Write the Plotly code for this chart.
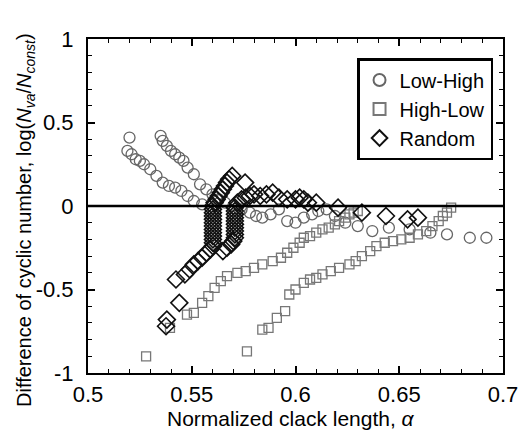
import plotly.graph_objects as go

# Low-High (open circles)
lh_x = [0.520, 0.519, 0.521, 0.523, 0.525, 0.527, 0.530, 0.533, 0.536, 0.539, 0.542, 0.545, 0.548, 0.551, 0.555,
        0.535, 0.536, 0.538, 0.540, 0.542, 0.544, 0.546, 0.548, 0.551, 0.554, 0.557, 0.560, 0.563, 0.566,
        0.570, 0.574, 0.578, 0.581, 0.584, 0.588, 0.592, 0.596, 0.600, 0.604, 0.608, 0.611, 0.615, 0.619,
        0.624, 0.630, 0.637, 0.645, 0.655, 0.665, 0.673, 0.684, 0.692]
lh_y = [0.41, 0.33, 0.31, 0.28, 0.27, 0.25, 0.22, 0.18, 0.14, 0.12, 0.11, 0.09, 0.06, 0.03, 0.01,
        0.42, 0.39, 0.36, 0.33, 0.31, 0.29, 0.27, 0.23, 0.19, 0.13, 0.10, 0.07, 0.04, 0.02,
        0.00, -0.02, -0.04, -0.06, -0.07, -0.05, -0.02, -0.09, -0.10, -0.07, -0.05, -0.03, -0.02, -0.06,
        -0.10, -0.12, -0.15, -0.13, -0.14, -0.16, -0.17, -0.19, -0.19]

# High-Low (open squares)
hl_x = [0.528, 0.5395, 0.5477, 0.551, 0.555, 0.558, 0.561, 0.564, 0.567, 0.572, 0.576, 0.580, 0.584,
        0.589, 0.593, 0.596, 0.599, 0.602, 0.604, 0.607, 0.610, 0.613, 0.616, 0.619, 0.621, 0.624,
        0.626, 0.628, 0.630,
        0.5766, 0.584, 0.587, 0.591, 0.595, 0.597, 0.600, 0.604, 0.607, 0.610, 0.613, 0.617, 0.621,
        0.626, 0.629, 0.632, 0.636, 0.639, 0.643, 0.647, 0.651, 0.655, 0.659, 0.663, 0.666, 0.669,
        0.671, 0.673, 0.675]
hl_y = [-0.90, -0.73, -0.65, -0.64, -0.58, -0.54, -0.49, -0.45, -0.42, -0.40, -0.39, -0.37, -0.35,
        -0.33, -0.31, -0.28, -0.25, -0.22, -0.19, -0.18, -0.16, -0.14, -0.13, -0.11, -0.09, -0.07,
        -0.05, -0.04, -0.03,
        -0.87, -0.74, -0.73, -0.67, -0.63, -0.53, -0.50, -0.46, -0.44, -0.43, -0.41, -0.39, -0.37,
        -0.35, -0.33, -0.30, -0.27, -0.24, -0.22, -0.21, -0.20, -0.19, -0.17, -0.15, -0.12, -0.09,
        -0.06, -0.04, -0.01]

# Random (open diamonds)
rd_x = [0.538, 0.5376, 0.544, 0.5424, 0.5467, 0.549, 0.551, 0.553, 0.555, 0.557, 0.559,
        0.5602, 0.5602, 0.5602, 0.5602, 0.5602, 0.5602, 0.5602, 0.5602, 0.5602, 0.5602, 0.5602, 0.5602, 0.5602,
        0.561, 0.562, 0.563, 0.564, 0.565, 0.566, 0.567, 0.568, 0.5695,
        0.565, 0.567, 0.569, 0.570,
        0.5708, 0.5708, 0.5708, 0.5708, 0.5708, 0.5708, 0.5708, 0.5708, 0.5708, 0.5708,
        0.572, 0.574, 0.576, 0.578, 0.580, 0.5757, 0.583, 0.586, 0.589, 0.592, 0.596, 0.600, 0.602,
        0.604, 0.606, 0.610, 0.6205, 0.632, 0.6436, 0.654, 0.659]
rd_y = [-0.68, -0.72, -0.58, -0.44, -0.41, -0.38, -0.35, -0.33, -0.31, -0.28, -0.26,
        -0.24, -0.22, -0.20, -0.18, -0.16, -0.14, -0.12, -0.10, -0.08, -0.06, -0.04, -0.02, 0.00,
        0.02, 0.04, 0.06, 0.08, 0.10, 0.12, 0.14, 0.16, 0.18,
        -0.27, -0.25, -0.23, -0.21,
        -0.19, -0.17, -0.15, -0.13, -0.11, -0.09, -0.07, -0.05, -0.03, -0.01,
        0.02, 0.04, 0.05, 0.06, 0.07, 0.14, 0.06, 0.07, 0.08, 0.05, 0.04, 0.04, 0.05,
        0.04, 0.02, 0.02, -0.01, -0.04, -0.06, -0.08, -0.07]

x_ticks = [0.5, 0.55, 0.6, 0.65, 0.7]
x_tick_labels = ["0.5", "0.55", "0.6", "0.65", "0.7"]
y_ticks = [-1, -0.5, 0, 0.5, 1]
y_tick_labels = ["-1", "-0.5", "0", "0.5", "1"]

FONT = "Liberation Sans"

fig = go.Figure()
fig.add_trace(go.Scatter(x=lh_x, y=lh_y, mode="markers", name="Low-High",
                         marker=dict(symbol="circle-open", size=11, color="#666666", line=dict(width=1.3))))
fig.add_trace(go.Scatter(x=hl_x, y=hl_y, mode="markers", name="High-Low",
                         marker=dict(symbol="square-open", size=9, color="#777777", line=dict(width=1.3))))
fig.add_trace(go.Scatter(x=rd_x, y=rd_y, mode="markers", name="Random",
                         marker=dict(symbol="diamond-open", size=13, color="#111111", line=dict(width=1.6))))

fig.add_shape(type="line", xref="x", yref="y", x0=0.5, x1=0.7, y0=0, y1=0,
              line=dict(color="black", width=2.5))

axis_common = dict(showgrid=False, zeroline=False, showline=True, linecolor="black", linewidth=2,
                   mirror="ticks", ticks="inside", ticklen=7, tickwidth=1.5, tickcolor="black",
                   automargin=False,
                   tickfont=dict(family=FONT, size=22, color="black"))

fig.update_xaxes(range=[0.5, 0.7], tickvals=x_ticks, ticktext=x_tick_labels, ticklabelstandoff=1,
                 minor=dict(dtick=0.01, ticks="inside", ticklen=4, tickcolor="black", tickwidth=1),
                 **axis_common)
fig.update_yaxes(range=[-1, 1], tickvals=y_ticks, ticktext=y_tick_labels, ticklabelstandoff=8,
                 minor=dict(dtick=0.1, ticks="inside", ticklen=4, tickcolor="black", tickwidth=1),
                 **axis_common)

fig.add_annotation(text="Normalized clack length, <i>α</i>", xref="paper", yref="paper",
                   x=0.49, y=-0.135, xanchor="center", yanchor="middle", showarrow=False,
                   font=dict(family=FONT, size=21, color="black"))
fig.add_annotation(text="Difference of cyclic number, log(<i>N</i><sub><i>va</i></sub>/<i>N</i><sub><i>const</i></sub>)",
                   xref="paper", yref="paper", x=-0.152, y=0.458, xanchor="center", yanchor="middle",
                   textangle=-90, showarrow=False,
                   font=dict(family=FONT, size=20, color="black"))

fig.update_layout(
    width=521, height=430,
    margin=dict(l=88, r=18, t=39, b=57),
    plot_bgcolor="white", paper_bgcolor="white",
    showlegend=True,
    legend=dict(x=0.976, y=0.943, xanchor="right", yanchor="top",
                bordercolor="black", borderwidth=2.5, bgcolor="white",
                font=dict(family=FONT, size=20, color="black"),
                itemsizing="constant", tracegroupgap=0),
)

fig.write_html("out.html", config={"displayModeBar": False},
               post_script="document.body.style.margin='0';document.body.style.overflow='hidden';")
